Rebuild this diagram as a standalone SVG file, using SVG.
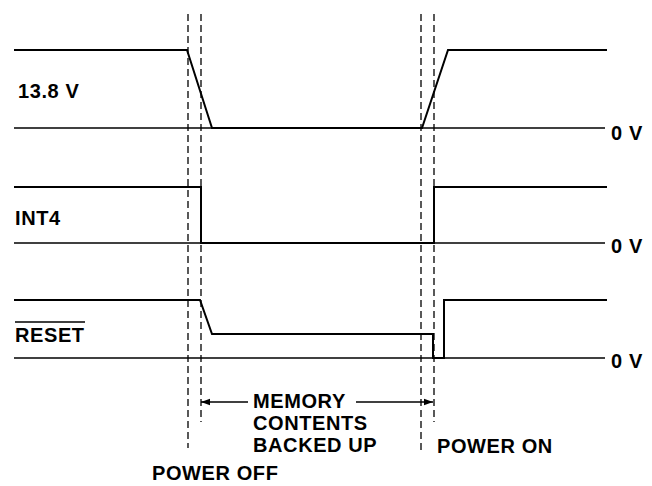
<svg xmlns="http://www.w3.org/2000/svg" width="652" height="486" viewBox="0 0 652 486">
<style>
.sig{fill:none;stroke:#000;stroke-width:2;stroke-linejoin:miter}
.base{fill:none;stroke:#000;stroke-width:1.5}
.dash{fill:none;stroke:#000;stroke-width:1.3;stroke-dasharray:7,4}
.arr{fill:none;stroke:#000;stroke-width:1.3}
text{font-family:"Liberation Sans",Arial,sans-serif;font-size:20px;font-weight:bold;letter-spacing:0.6px;fill:#000}
</style>
<defs>
<marker id="ah" viewBox="0 0 10 10" refX="10" refY="5" markerWidth="9" markerHeight="9" markerUnits="userSpaceOnUse" orient="auto-start-reverse">
<path d="M0,1.5 L10,5 L0,8.5 Z" fill="#000"/>
</marker>
</defs>
<rect width="652" height="486" fill="#fff"/>
<g id="connectors">
<line class="dash" x1="188" y1="14" x2="188" y2="448"/>
<line class="dash" x1="201" y1="14" x2="201" y2="422"/>
<line class="dash" x1="421" y1="14" x2="421" y2="450"/>
<line class="dash" x1="434" y1="14" x2="434" y2="422"/>
<line class="arr" x1="248" y1="402" x2="201" y2="402" marker-end="url(#ah)"/>
<line class="arr" x1="356" y1="402" x2="433" y2="402" marker-end="url(#ah)"/>
</g>
<g id="v138">
<line class="base" x1="14" y1="128" x2="605" y2="128"/>
<polyline class="sig" points="14,50 187,50 212,128 422,128 448,50 607,50"/>
<text x="18" y="98">13.8 V</text>
<text x="611" y="140">0 V</text>
</g>
<g id="int4">
<line class="base" x1="14" y1="243" x2="605" y2="243"/>
<polyline class="sig" points="14,187 201,187 201,243 434,243 434,187 607,187"/>
<text x="15" y="225">INT4</text>
<text x="611" y="253">0 V</text>
</g>
<g id="reset">
<line class="base" x1="14" y1="358" x2="605" y2="358"/>
<polyline class="sig" points="14,300 200,300 212,334 433,334 433,358 444,358 444,300 607,300"/>
<text x="15" y="342">RESET</text>
<line x1="15" y1="322" x2="85" y2="322" stroke="#000" stroke-width="1.5"/>
<text x="611" y="368">0 V</text>
</g>
<g id="labels">
<text x="253" y="408">MEMORY</text>
<text x="253" y="430">CONTENTS</text>
<text x="253" y="452">BACKED UP</text>
<text x="437" y="453">POWER ON</text>
<text x="152" y="480">POWER OFF</text>
</g>
</svg>
